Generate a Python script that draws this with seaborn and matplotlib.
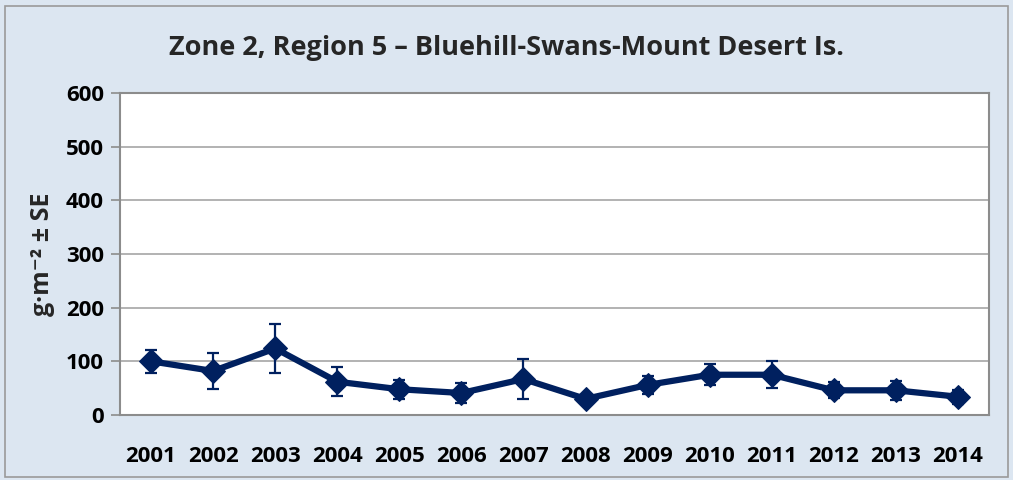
import matplotlib
matplotlib.use("Agg")
import matplotlib.pyplot as plt
from matplotlib.patches import Rectangle
import seaborn as sns
import numpy as np
import pandas as pd

years = ["2001", "2002", "2003", "2004", "2005", "2006", "2007",
         "2008", "2009", "2010", "2011", "2012", "2013", "2014"]
biomass = [100, 82, 124, 62, 48, 41, 67, 30, 56, 75, 75, 46, 46, 34]
se = [22, 33, 45, 27, 18, 18, 38, 8, 17, 20, 25, 15, 18, 13]
title = "Zone 2, Region 5 \u2013 Bluehill-Swans-Mount Desert Is."
ylabel = "g\u00b7m\u207b\u00b2 \u00b1 SE"

sns.set_theme(style="white")
plt.rcParams['font.family'] = ['Open Sans', 'DejaVu Sans']

navy = "#00205f"
bg = "#dce6f1"

fig = plt.figure(figsize=(10.13, 4.8), dpi=100)
fig.patch.set_facecolor(bg)
fig.patches.append(Rectangle((0.005, 0.006), 0.99, 0.982, transform=fig.transFigure,
                             facecolor="none", edgecolor="#9a9a9a", linewidth=1.2))

ax = fig.add_axes([120 / 1013, 65 / 480, 869 / 1013, 322 / 480])
ax.set_facecolor("white")

df = pd.DataFrame({"pos": np.arange(len(years)), "val": biomass, "se": se})
ax.errorbar(df["pos"], df["val"], yerr=df["se"], fmt="none", ecolor=navy,
            elinewidth=1.6, capsize=4, capthick=1.6, zorder=3)
sns.lineplot(data=df, x="pos", y="val", ax=ax, color=navy, linewidth=4.5,
             marker="D", markersize=12, markeredgecolor=navy, zorder=4)

ax.set_xlim(-0.5, len(years) - 0.5)
ax.set_ylim(0, 600)
ax.set_yticks(range(0, 601, 100))
ax.set_xticks(df["pos"])
ax.set_xticklabels(years)
ax.grid(axis="y", color="#a6a6a6", linewidth=1.2)
ax.set_axisbelow(True)
for s in ax.spines.values():
    s.set_color("#8c8c8c")
    s.set_linewidth(1.5)
ax.tick_params(axis="y", which="both", left=True, length=6.5, color="#8c8c8c", width=1.2, pad=5)
ax.tick_params(axis="x", bottom=False, pad=16)
for lab in ax.get_xticklabels() + ax.get_yticklabels():
    lab.set_fontsize(16)
    lab.set_fontweight("bold")
    lab.set_color("black")

ax.set_xlabel("")
ax.set_ylabel(ylabel, fontsize=18, fontweight="bold", labelpad=8)
fig.text(0.5, 0.9, title, ha="center", va="center", fontsize=19.5, fontweight="bold")

fig.savefig("out.png", dpi=100, facecolor=bg)
